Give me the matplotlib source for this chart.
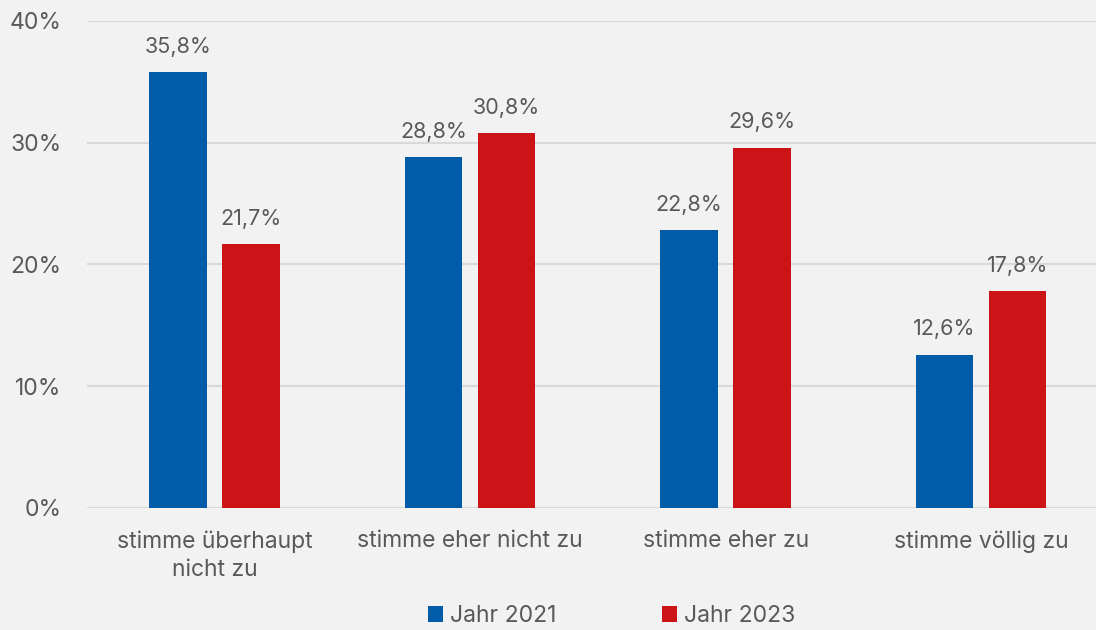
import matplotlib
matplotlib.use("Agg")
import matplotlib.pyplot as plt
import numpy as np

categories = ["stimme überhaupt\nnicht zu", "stimme eher nicht zu", "stimme eher zu", "stimme völlig zu"]
series_names = ["Jahr 2021", "Jahr 2023"]
values_2021 = [35.8, 28.8, 22.8, 12.6]
values_2023 = [21.7, 30.8, 29.6, 17.8]
yticks = [0, 10, 20, 30, 40]

colors = ["#005ca9", "#cc1418"]
bg = "#f2f2f2"
txt = "#595959"

plt.rcParams['font.family'] = ['Inter', 'DejaVu Sans']

fig = plt.figure(figsize=(10.96, 6.30), dpi=100, facecolor=bg)
ax = fig.add_axes([0.0792, 0.1937, 0.9325, 0.773])
ax.set_facecolor(bg)

x = np.arange(len(categories))
w = 0.225
off = 0.143
for vals, name, c, o in [(values_2021, series_names[0], colors[0], -off),
                         (values_2023, series_names[1], colors[1], off)]:
    bars = ax.bar(x + o, vals, width=w, color=c, label=name, zorder=3)
    for b, v in zip(bars, vals):
        ax.text(b.get_x() + b.get_width() / 2, v + 1.25, f"{v:.1f}%".replace(".", ","),
                ha="center", va="bottom", fontsize=15.5, color=txt)

ax.set_xlim(-0.5, len(categories) - 0.5)
ax.set_ylim(0, 40)
ax.set_yticks(yticks)
ax.set_yticklabels([f"{t}%" for t in yticks], fontsize=16.5, color=txt)
ax.set_xticks(x)
ax.set_xticklabels(categories, fontsize=16.5, color=txt, linespacing=1.35)
ax.tick_params(axis="both", length=0)
ax.tick_params(axis="y", pad=18)
ax.tick_params(axis="x", pad=16)
ax.grid(axis="y", color="#d9d9d9", linewidth=1.5, zorder=0)
for s in ax.spines.values():
    s.set_visible(False)

leg = fig.legend(*ax.get_legend_handles_labels(), loc="center", ncol=2,
                 bbox_to_anchor=(0.558, 0.022), frameon=False, fontsize=16.5,
                 handlelength=0.65, handleheight=0.65, handletextpad=0.3, columnspacing=4.6,
                 borderpad=0)
for t in leg.get_texts():
    t.set_color(txt)

fig.savefig("out.png", dpi=100, facecolor=bg)
